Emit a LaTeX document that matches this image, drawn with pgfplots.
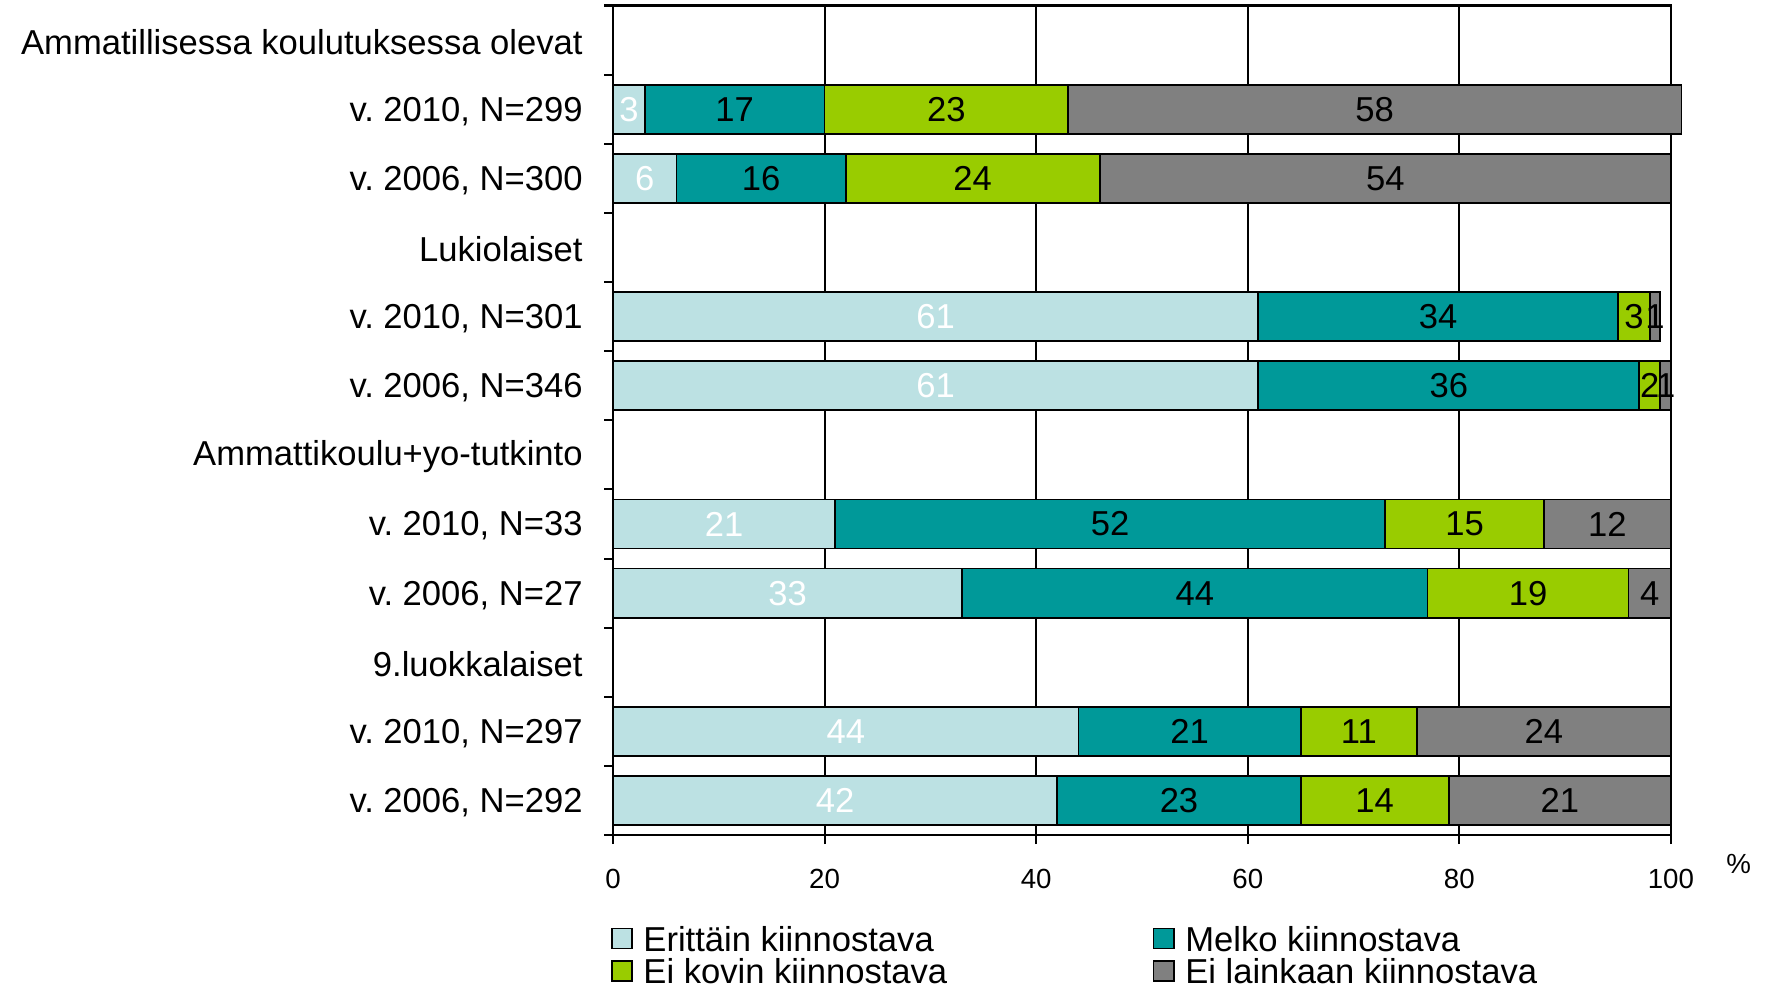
\documentclass[border=0pt]{standalone}
\usepackage{pgfplots}
\pgfplotsset{compat=1.18}
\usepackage{fontspec}
\setmainfont{Liberation Sans}
\definecolor{c1}{HTML}{BCE1E3}
\definecolor{c2}{HTML}{009999}
\definecolor{c3}{HTML}{99CC00}
\definecolor{c4}{HTML}{808080}
\pgfplotsset{
  myleg/.style={legend image code/.code={\draw[##1,draw=black,line width=0.5pt] (0pt,-2.9pt) rectangle (5.9pt,2.9pt);}},
}
\begin{document}
\frenchspacing
\begin{tikzpicture}
\begin{axis}[
  at={(0,0)}, anchor=south west,
  scale only axis, width=305.8pt, height=239.8pt,
  xbar stacked, bar width=14.2pt,
  xmin=0, xmax=100, ymin=-0.5, ymax=11.5,
  clip=false,
  xtick={0,20,...,100},
  xmajorgrids, grid style={black, line width=0.6pt},
  axis line style={line width=0.6pt},
  tick align=outside, major tick length=2.6pt,
  tick style={black, line width=0.6pt},
  xtick pos=bottom, ytick pos=left,
  ytick={-0.5,0.5,...,11.5},
  y tick label as interval,
  yticklabels={{v. 2006, N=292},{v. 2010, N=297},{9.luokkalaiset},{v. 2006, N=27},{v. 2010, N=33},{Ammattikoulu+yo-tutkinto},{v. 2006, N=346},{v. 2010, N=301},{Lukiolaiset},{v. 2006, N=300},{v. 2010, N=299},{Ammatillisessa koulutuksessa olevat},{}},
  yticklabel style={font=\fontsize{10}{12}\selectfont, inner sep=0pt, xshift=-6pt, yshift=-0.6pt},
  xticklabel style={font=\fontsize{8}{9.6}\selectfont, inner sep=0pt, yshift=-7pt},
  /pgf/number format/assume math mode=true,
  nodes near coords,
  every node near coord/.append style={font=\fontsize{10}{12}\selectfont, text=black},
  legend columns=2,
  legend cell align=left,
  legend style={at={(rel axis cs:0,0)}, anchor=north west, xshift=-0.6pt, yshift=-26.3pt,
    draw=none, fill=none, inner sep=0pt, outer sep=0pt,
    font=\fontsize{10}{12}\selectfont,
    nodes={inner sep=0pt, text height=7.2pt, text depth=0pt},
    row sep=2.1pt,
    /tikz/every odd column/.append style={column sep=3pt},
    /tikz/every even column/.append style={column sep=59.4pt}},
]
\addplot[fill=c1, draw=black, line width=0.5pt, myleg, every node near coord/.append style={text=white}]
  coordinates {(42,0) (44,1) (33,3) (21,4) (61,6) (61,7) (6,9) (3,10)};
\addplot[fill=c2, draw=black, line width=0.5pt, myleg]
  coordinates {(23,0) (21,1) (44,3) (52,4) (36,6) (34,7) (16,9) (17,10)};
\addplot[fill=c3, draw=black, line width=0.5pt, myleg]
  coordinates {(14,0) (11,1) (19,3) (15,4) (2,6) (3,7) (24,9) (23,10)};
\addplot[fill=c4, draw=black, line width=0.5pt, myleg]
  coordinates {(21,0) (24,1) (4,3) (12,4) (1,6) (1,7) (54,9) (58,10)};
\legend{Erittäin kiinnostava, Melko kiinnostava, Ei kovin kiinnostava, Ei lainkaan kiinnostava}
\node[font=\fontsize{8}{9.6}\selectfont, xshift=19.6pt, yshift=-8.3pt] at (rel axis cs:1,0) {\%};
\end{axis}
\pgfresetboundingbox
\path[use as bounding box] (-177.2pt,-44.5pt) rectangle (335.3pt,241.4pt);
\end{tikzpicture}
\end{document}
